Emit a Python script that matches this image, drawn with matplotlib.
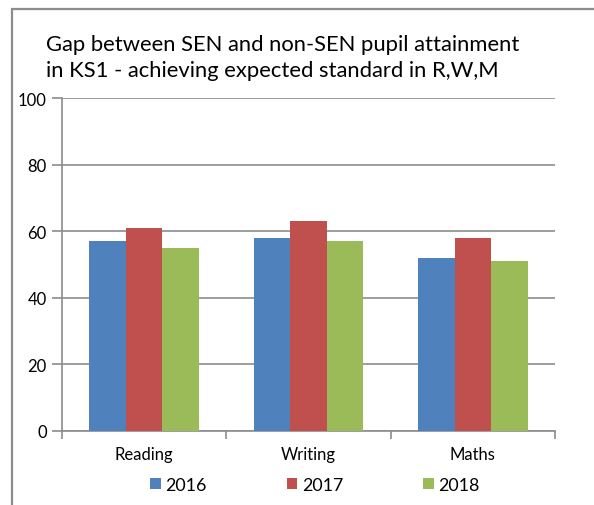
import matplotlib.pyplot as plt
from matplotlib.patches import Rectangle
import numpy as np

subjects = ['Reading', 'Writing', 'Maths']
years = ['2016', '2017', '2018']
values_2016 = [57, 58, 52]
values_2017 = [61, 63, 58]
values_2018 = [55, 57, 51]
colors = ['#4F81BD', '#C0504D', '#9BBB59']

plt.rcParams['font.family'] = ['Lato', 'DejaVu Sans']

fig = plt.figure(figsize=(5.94, 5.06), dpi=100)
ax = fig.add_axes([62 / 594, 1 - 432 / 506, (555 - 62) / 594, (432 - 99) / 506])

# outer chart frame (cut off at right and bottom like the screenshot)
fig.patches.append(Rectangle((12 / 594, -0.2), 1.2, 1 - 10 / 506 + 0.2,
                             transform=fig.transFigure, fill=False,
                             edgecolor='#8c8c8c', linewidth=1.6))

x = np.arange(len(subjects))
w = 0.222
series = [values_2016, values_2017, values_2018]
for i, (vals, yr) in enumerate(zip(series, years)):
    ax.bar(x + (i - 1) * w, vals, width=w, color=colors[i], label=yr, zorder=3)

ax.set_xlim(-0.5, 2.5)
ax.set_ylim(0, 100)
ax.set_yticks([0, 20, 40, 60, 80, 100])
ax.yaxis.grid(True, color='#8c8c8c', linewidth=1.2, zorder=0)
ax.set_axisbelow(True)

for s in ['top', 'right']:
    ax.spines[s].set_visible(False)
for s in ['left', 'bottom']:
    ax.spines[s].set_color('#8c8c8c')
    ax.spines[s].set_linewidth(1.2)

ax.set_xticks(x)
ax.set_xticklabels(subjects, fontsize=12)
ax.tick_params(axis='x', length=0, pad=11)
ax.set_xticks([-0.5, 0.5, 1.5, 2.5], minor=True)
ax.tick_params(axis='x', which='minor', length=6, color='#8c8c8c', width=1.2)
ax.tick_params(axis='y', length=7, color='#8c8c8c', width=1.2, labelsize=12, pad=4)

fig.text(46 / 594, 1 - 35 / 506,
         'Gap between SEN and non-SEN pupil attainment\nin KS1 - achieving expected standard in R,W,M',
         fontsize=15.8, va='top', ha='left', linespacing=1.38)

fig.legend(loc='center', bbox_to_anchor=(0.53, 1 - 486 / 506), ncol=3, frameon=False,
           fontsize=12.8, handlelength=0.6, handleheight=0.6, handletextpad=0.25,
           columnspacing=4.5)

fig.savefig('out.png', dpi=100)
